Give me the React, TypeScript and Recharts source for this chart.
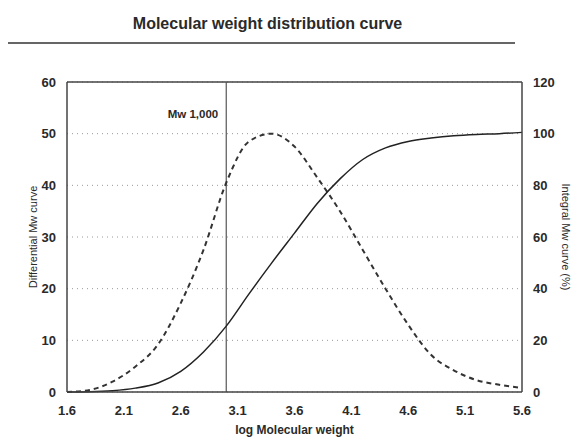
import React from "react";
import {
  LineChart,
  Line,
  XAxis,
  YAxis,
  CartesianGrid,
  ReferenceLine,
} from "recharts";

const logMw = [1.6, 1.8, 2.0, 2.2, 2.4, 2.6, 2.8, 3.0, 3.2, 3.4, 3.6, 3.8, 4.0, 4.2, 4.4, 4.6, 4.8, 5.0, 5.2, 5.4, 5.6];
const differential = [0, 0.4, 2.0, 4.9, 9.2, 17.2, 27.5, 40.5, 48.5, 50, 47.5, 41.5, 35, 27.5, 20, 13, 7.2, 4.2, 2.3, 1.4, 0.8];
const integral = [0, 0.1, 0.5, 1.5, 3.5, 8, 15.5, 25.5, 38, 50, 61.5, 73, 82.5, 90, 94.5, 97, 98.3, 99.2, 99.7, 100, 100.5];

const xTicks = [1.6, 2.1, 2.6, 3.1, 3.6, 4.1, 4.6, 5.1, 5.6];
const leftTicks = [0, 10, 20, 30, 40, 50, 60];
const rightTicks = [0, 20, 40, 60, 80, 100, 120];

const data = logMw.map((x, i) => ({ x, diff: differential[i], integ: integral[i] }));

const font = "'Liberation Sans', Arial, sans-serif";
const ink = "#2a2a2a";
const tickStyle = { fontSize: 13, fill: ink, fontFamily: font, fontWeight: 700 };

function MwLabel(props: any) {
  const vb = props.viewBox || {};
  return (
    <text
      x={vb.x - 8}
      y={vb.y + 36}
      textAnchor="end"
      fontSize={11.5}
      fontFamily={font}
      fontWeight={700}
      fill={ink}
    >
      Mw 1,000
    </text>
  );
}

export default function App() {
  return (
    <div style={{ position: "absolute", left: 0, top: 0, width: 583, height: 441, background: "#fff" }}>
      <div
        style={{
          position: "absolute",
          left: 0,
          width: 535,
          top: 15,
          textAlign: "center",
          fontFamily: font,
          fontWeight: 700,
          fontSize: 16,
          color: ink,
        }}
      >
        Molecular weight distribution curve
      </div>
      <div style={{ position: "absolute", left: 8, top: 42, width: 507, height: 1.5, background: "#666" }} />
      <LineChart
        width={583}
        height={441}
        data={data}
        margin={{ top: 82, right: 21, bottom: 19, left: 27 }}
      >
        <CartesianGrid vertical={false} stroke="#999" strokeDasharray="1 4" yAxisId="left" />
        <XAxis
          dataKey="x"
          type="number"
          domain={[1.6, 5.6]}
          ticks={xTicks}
          tickLine={false}
          axisLine={{ stroke: "#444", strokeWidth: 1.5 }}
          tick={tickStyle}
          tickMargin={8}
          height={30}
          label={{
            value: "log Molecular weight",
            position: "insideBottom",
            offset: -12,
            style: { fontSize: 12, fill: ink, fontFamily: font, fontWeight: 700 },
          }}
        />
        <YAxis
          yAxisId="left"
          domain={[0, 60]}
          ticks={leftTicks}
          tickLine={false}
          axisLine={{ stroke: "#444", strokeWidth: 1.5 }}
          tick={tickStyle}
          tickMargin={5}
          width={40}
          label={{
            value: "Differential Mw curve",
            angle: -90,
            position: "insideLeft",
            offset: 6,
            style: { fontSize: 11, fill: ink, fontFamily: font, textAnchor: "middle" },
          }}
        />
        <YAxis
          yAxisId="right"
          orientation="right"
          domain={[0, 120]}
          ticks={rightTicks}
          tickLine={false}
          axisLine={{ stroke: "#444", strokeWidth: 1.5 }}
          tick={tickStyle}
          tickMargin={5}
          width={40}
          label={{
            value: "Integral Mw curve (%)",
            angle: 90,
            position: "insideRight",
            offset: -4,
            style: { fontSize: 11, fill: ink, fontFamily: font, textAnchor: "middle" },
          }}
        />
        <ReferenceLine yAxisId="left" y={60} stroke="#444" strokeWidth={1.5} />
        <ReferenceLine yAxisId="left" x={3.0} stroke="#555" strokeWidth={1.2} label={<MwLabel />} />
        <Line
          yAxisId="left"
          type="monotone"
          dataKey="diff"
          stroke="#333"
          strokeWidth={2}
          strokeDasharray="5 4"
          dot={false}
          isAnimationActive={false}
        />
        <Line
          yAxisId="right"
          type="monotone"
          dataKey="integ"
          stroke="#222"
          strokeWidth={1.5}
          dot={false}
          isAnimationActive={false}
        />
      </LineChart>
    </div>
  );
}
